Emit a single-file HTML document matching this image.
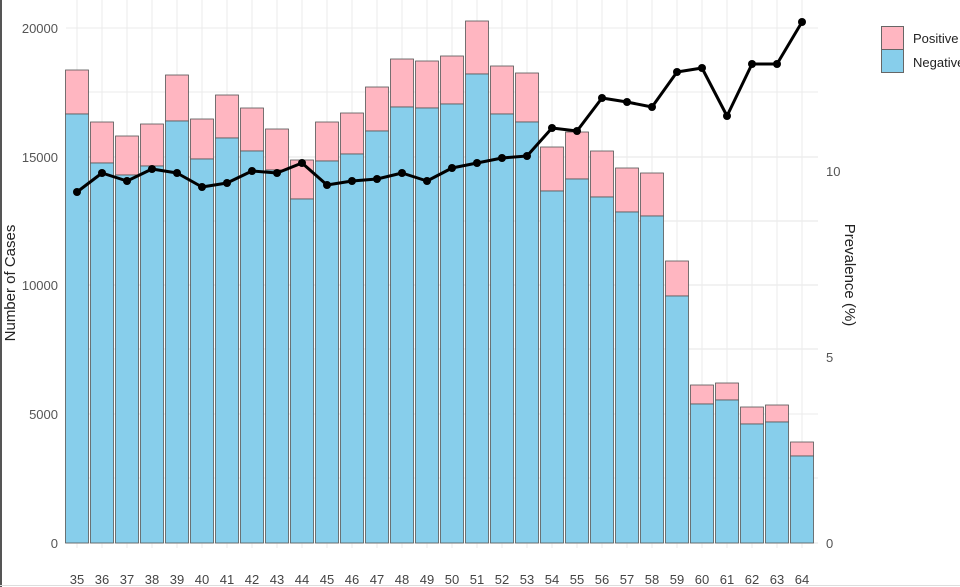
<!DOCTYPE html><html><head><style>body{margin:0;background:#fff}svg{display:block;font-family:"Liberation Sans",sans-serif}</style></head><body>
<svg width="960" height="587" viewBox="0 0 960 587">
<rect x="0" y="0" width="2" height="587" fill="#555"/>
<line x1="0" y1="585.5" x2="960" y2="585.5" stroke="#ddd"/>
<g id="g"></g>
<text x="58" y="33" font-size="13" fill="#555" text-anchor="end">20000</text>
<text x="58" y="162" font-size="13" fill="#555" text-anchor="end">15000</text>
<text x="58" y="290" font-size="13" fill="#555" text-anchor="end">10000</text>
<text x="58" y="419" font-size="13" fill="#555" text-anchor="end">5000</text>
<text x="58" y="548" font-size="13" fill="#555" text-anchor="end">0</text>
<text x="826" y="176" font-size="13" fill="#555">10</text>
<text x="826" y="362" font-size="13" fill="#555">5</text>
<text x="826" y="548" font-size="13" fill="#555">0</text>
<text transform="translate(15,283) rotate(-90)" font-size="15" fill="#222" text-anchor="middle">Number of Cases</text>
<text transform="translate(845,275) rotate(90)" font-size="15" fill="#222" text-anchor="middle">Prevalence (%)</text>
<rect x="881.5" y="26.5" width="22" height="23" fill="#ffb6c1" stroke="#666"/>
<rect x="881.5" y="49.5" width="22" height="23" fill="#87ceeb" stroke="#666"/>
<text x="913" y="43" font-size="13" fill="#222">Positive</text>
<text x="913" y="67" font-size="13" fill="#222">Negative</text>
</svg>
<script>
const d=[[70,114,192],[122,163,173],[136,175,181],[124,166,169],[75,121,173],[119,159,187],[95,138,183],[108,151,171],[129,170,173],[160,199,163],[122,161,185],[113,154,181],[87,131,179],[59,107,173],[61,108,181],[56,104,168],[21,74,163],[66,114,158],[73,122,156],[147,191,128],[132,179,131],[151,197,98],[168,212,102],[173,216,107],[261,296,72],[385,404,68],[383,400,116],[407,424,64],[405,422,64],[442,456,22]];
let s='';
for(const y of [28,92,157,221,285,349,414,478,543])s+=`<line x1="66" x2="818" y1="${y}" y2="${y}" stroke="#ebebeb" stroke-width="${y%2?1.2:1}"/>`;
d.forEach((v,i)=>{const x=77+25*i;s+=`<line x1="${x}" x2="${x}" y1="0" y2="548" stroke="#ebebeb"/>`;});
let pts=[];
d.forEach((v,i)=>{const x=77+25*i;
s+=`<rect x="${x-11.5}" y="${v[0]}" width="23" height="${v[1]-v[0]}" fill="#ffb6c1" stroke="#555" stroke-width="0.8"/>`;
s+=`<rect x="${x-11.5}" y="${v[1]}" width="23" height="${543-v[1]}" fill="#87ceeb" stroke="#555" stroke-width="0.8"/>`;
s+=`<text x="${x}" y="584" font-size="13" fill="#444" text-anchor="middle">${35+i}</text>`;
pts.push(x+','+v[2]);});
s+=`<polyline points="${pts.join(' ')}" fill="none" stroke="#000" stroke-width="3" stroke-linejoin="round"/>`;
d.forEach((v,i)=>{s+=`<circle cx="${77+25*i}" cy="${v[2]}" r="4" fill="#000"/>`;});
document.getElementById('g').innerHTML=s;
</script>
</body></html>
